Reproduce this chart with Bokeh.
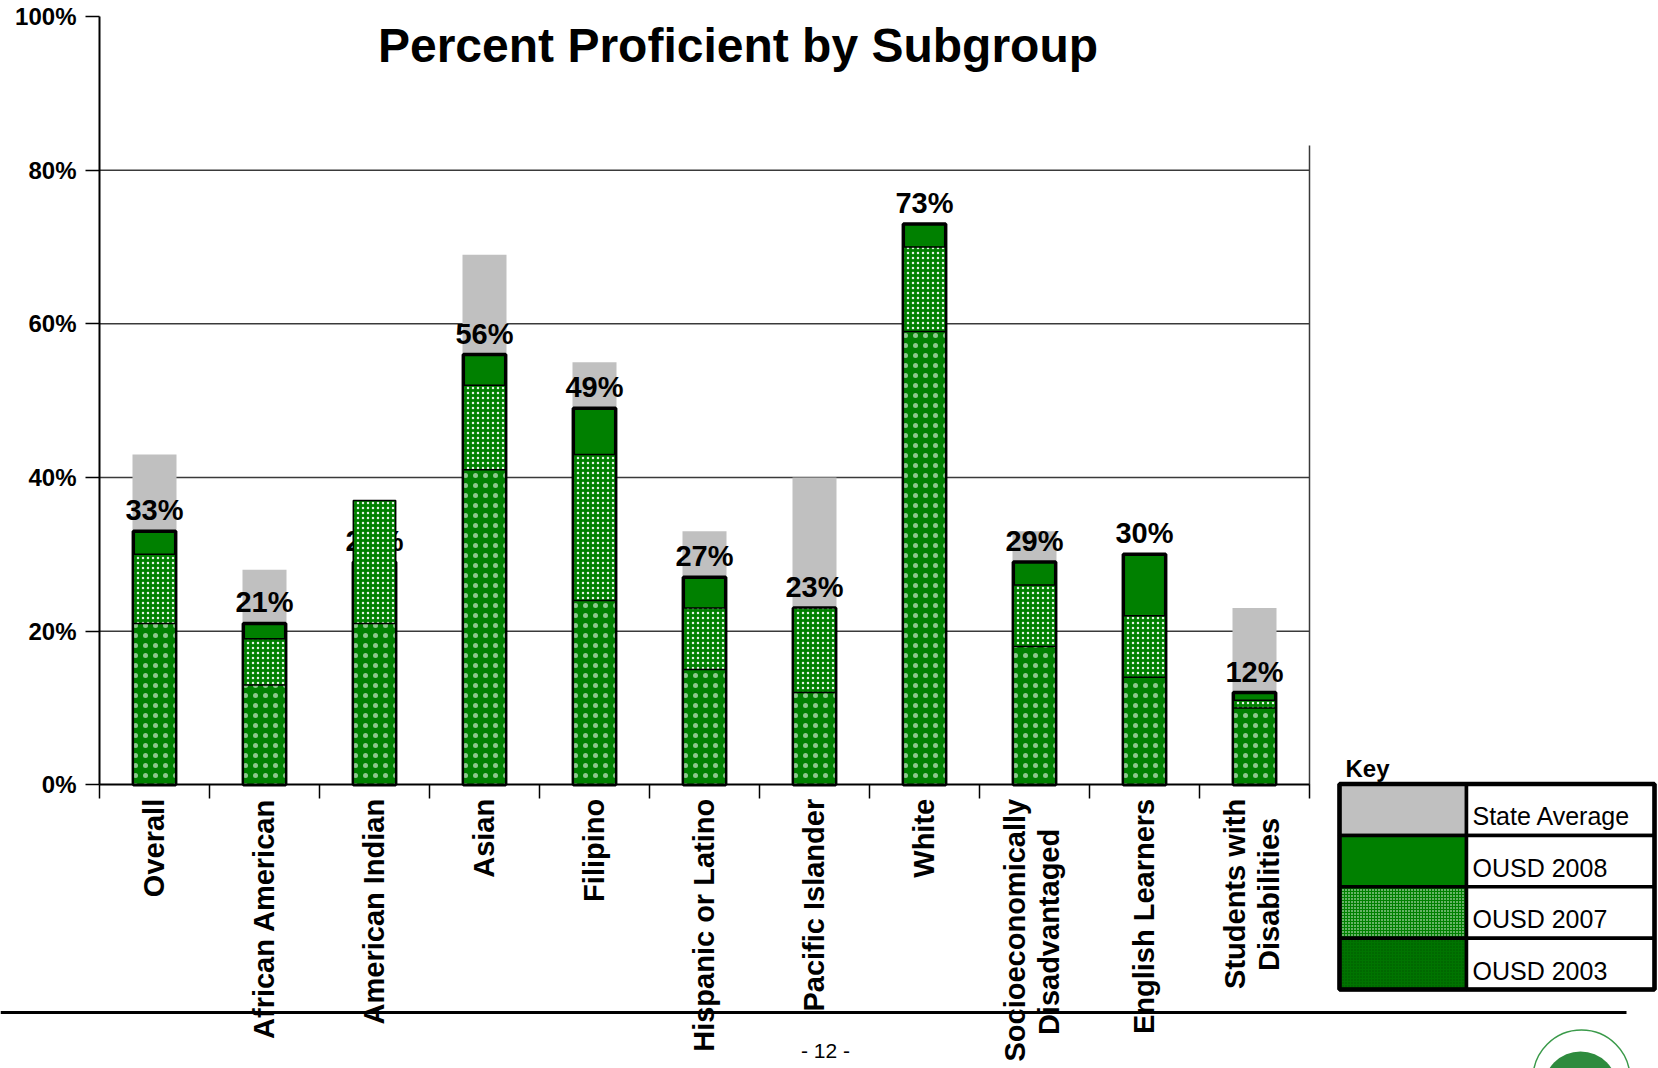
import numpy as np
from bokeh.plotting import figure
from bokeh.models import (Range1d, FixedTicker, CustomJSTickFormatter, PrintfTickFormatter,
                          LinearAxis)
from bokeh.core.properties import value
from bokeh.embed import file_html
from bokeh.resources import INLINE

# ---------------- data ----------------
categories = ["Overall", "African American", "American Indian", "Asian", "Filipino",
              "Hispanic or Latino", "Pacific Islander", "White",
              "Socioeconomically\nDisadvantaged", "English Learners",
              "Students with\nDisabilities"]
state_avg = [43, 28, 33, 69, 55, 33, 40, 66, 33, 23, 23]
ousd_2008 = [33, 21, 29, 56, 49, 27, 23, 73, 29, 30, 12]
ousd_2007 = [30, 19, 37, 52, 43, 23, 23, 70, 26, 22, 11]
ousd_2003 = [21, 13, 21, 41, 24, 15, 12, 59, 18, 14, 10]
y_ticks = [0, 20, 40, 60, 80, 100]
grid_values = [20, 40, 60, 80]
key_labels = ["State Average", "OUSD 2008", "OUSD 2007", "OUSD 2003"]
title_text = "Percent Proficient by Subgroup"
page_number = "- 12 -"

FONT = "Liberation Sans"
GREEN = "#008000"
GRAY = "#C0C0C0"

# ---------------- geometry (page pixels -> data units) ----------------
W, H = 1658, 1068
PX = 110.0          # pixels per category
PY = 7.683          # pixels per percent
X0 = 99.0           # page x of category axis origin
Y0 = 784.3          # page y of 0 %


def dx(px):
    return (px - X0) / PX


def dy(py):
    return (Y0 - py) / PY


n = len(categories)
xc = list(np.arange(n) + 0.5)

p = figure(width=W, height=H,
           x_range=Range1d(dx(0), dx(W)), y_range=Range1d(dy(H), dy(0)),
           output_backend="svg", toolbar_location=None,
           min_border_left=0, min_border_right=0, min_border_top=0, min_border_bottom=0)
p.outline_line_color = None
p.xgrid.visible = False
p.ygrid.visible = False
p.background_fill_color = "white"
p.border_fill_color = "white"

# ---------------- axes ----------------
LABEL_LINE_SHIFT = (-19.0, 15.0)          # px offsets of the two lines of a 2-line label
SECOND_LINE_STANDOFF = {8: 30, 10: 19}     # centring of the shorter second line

main_pos, main_txt = [], []
second = []
for i, c in enumerate(categories):
    lines = c.split("\n")
    if len(lines) == 1:
        main_pos.append(i + 0.5)
        main_txt.append(lines[0])
    else:
        main_pos.append(i + 0.5 + LABEL_LINE_SHIFT[0] / PX)
        main_txt.append(lines[0])
        second.append((i + 0.5 + LABEL_LINE_SHIFT[1] / PX, lines[1], SECOND_LINE_STANDOFF[i]))

pick_js = """
let b = 0;
for (let i = 0; i < pos.length; i++) { if (Math.abs(pos[i] - tick) < Math.abs(pos[b] - tick)) b = i; }
return txt[b];
"""


def style_cat_axis(ax, standoff, visible_lines):
    ax.fixed_location = 0
    ax.bounds = (0, n)
    ax.major_tick_out = 0
    ax.major_tick_in = 0
    ax.minor_tick_out = 14
    ax.minor_tick_in = 0
    ax.axis_line_width = 2
    ax.minor_tick_line_width = 1.5
    if visible_lines:
        ax.axis_line_color = "black"
        ax.minor_tick_line_color = "black"
    else:
        ax.axis_line_color = None
        ax.minor_tick_line_color = None
    ax.major_tick_line_color = None
    ax.major_label_orientation = np.pi / 2
    ax.major_label_standoff = standoff
    ax.major_label_text_font = FONT
    ax.major_label_text_font_style = "bold"
    ax.major_label_text_font_size = "29px"
    ax.major_label_text_color = "black"


xa = p.xaxis[0]
xa.ticker = FixedTicker(ticks=main_pos, minor_ticks=list(range(n + 1)))
xa.formatter = CustomJSTickFormatter(args=dict(pos=main_pos, txt=main_txt), code=pick_js)
style_cat_axis(xa, 0, True)

for pos, txt, so in second:
    ax2 = LinearAxis(ticker=FixedTicker(ticks=[pos], minor_ticks=list(range(n + 1))),
                     formatter=CustomJSTickFormatter(args=dict(pos=[pos], txt=[txt]), code=pick_js))
    style_cat_axis(ax2, so, False)
    p.add_layout(ax2, "below")

ya = p.yaxis[0]
ya.fixed_location = 0
ya.bounds = (0, 100)
ya.ticker = FixedTicker(ticks=y_ticks)
ya.formatter = PrintfTickFormatter(format="%d%%")
ya.major_tick_out = 14
ya.major_tick_in = 0
ya.minor_tick_out = 0
ya.minor_tick_in = 0
ya.major_tick_line_color = "black"
ya.major_tick_line_width = 1.5
ya.axis_line_color = "black"
ya.axis_line_width = 2
ya.major_label_standoff = 9
ya.major_label_text_font = FONT
ya.major_label_text_font_style = "bold"
ya.major_label_text_font_size = "24px"
ya.major_label_text_color = "black"

# ---------------- grid + frame line ----------------
p.segment(x0=[0] * len(grid_values), y0=grid_values, x1=[n] * len(grid_values), y1=grid_values,
          line_color="#3a3a3a", line_width=1.5)
p.segment(x0=[n], y0=[0], x1=[n], y1=[dy(145)], line_color="#3a3a3a", line_width=1.5)

# ---------------- bars ----------------
p.vbar(x=xc, top=state_avg, bottom=0, width=0.40, fill_color=GRAY, line_color=None)
p.vbar(x=xc, top=ousd_2008, bottom=0, width=0.385, fill_color=GREEN,
       line_color="black", line_width=3.5)
p.text(x=xc, y=ousd_2008, text=[f"{v}%" for v in ousd_2008],
       text_align="center", text_baseline="middle", y_offset=-21,
       text_font=value(FONT), text_font_style="bold", text_font_size="29px",
       text_color="black")
p.vbar(x=xc, top=ousd_2007, bottom=0, width=0.385, fill_color=GREEN,
       hatch_pattern="dot", hatch_color="white", hatch_scale=5, hatch_weight=2,
       hatch_alpha=0.9, line_color="black", line_width=1.5)
p.vbar(x=xc, top=ousd_2003, bottom=0, width=0.385, fill_color=GREEN,
       hatch_pattern="dot", hatch_color="white", hatch_scale=10, hatch_weight=1,
       hatch_alpha=0.55, line_color="black", line_width=1.5)

# ---------------- title / footer ----------------
p.text(x=[dx(737.5)], y=[dy(45)], text=[title_text], text_align="center",
       text_baseline="middle", text_font=value(FONT), text_font_style="bold",
       text_font_size="48px", text_color="black")
p.segment(x0=[dx(0)], y0=[dy(1012)], x1=[dx(1626)], y1=[dy(1012)],
          line_color="black", line_width=3)
p.text(x=[dx(825)], y=[dy(1050)], text=[page_number], text_align="center",
       text_baseline="middle", text_font=value(FONT), text_font_size="21px",
       text_color="black")
p.scatter(x=[dx(1581)], y=[dy(1078)], size=97, marker="circle",
          fill_color=None, line_color="#3a9a4a", line_width=1.5)
p.scatter(x=[dx(1580)], y=[dy(1088)], size=74, marker="circle",
          fill_color="#2e8b3e", line_color=None)

# ---------------- key ----------------
k_left, k_mid, k_right = 1339, 1466, 1654
k_top, row_h = 783.5, 51.4
tops = [k_top + i * row_h for i in range(len(key_labels))]
bots = [t + row_h for t in tops]
swatch_styles = [
    dict(fill_color=GRAY),
    dict(fill_color=GREEN),
    dict(fill_color=GREEN, hatch_pattern="dot", hatch_color="white", hatch_scale=3,
         hatch_weight=1.6),
    dict(fill_color="#007400", hatch_pattern="dot", hatch_color="#005500", hatch_scale=3,
         hatch_weight=1.0),
]
for i, st in enumerate(swatch_styles):
    p.quad(left=[dx(k_left)], right=[dx(k_mid)], top=[dy(tops[i])], bottom=[dy(bots[i])],
           line_color="black", line_width=3.5, **st)
p.quad(left=[dx(k_mid)] * 4, right=[dx(k_right)] * 4, top=[dy(t) for t in tops],
       bottom=[dy(b) for b in bots], fill_color="white", line_color="black", line_width=3.5)
p.quad(left=[dx(k_left)], right=[dx(k_right)], top=[dy(k_top)], bottom=[dy(bots[-1])],
       fill_color=None, line_color="black", line_width=4.5)
p.text(x=[dx(1472)] * 4, y=[dy(b - 19) for b in bots], text=key_labels,
       text_align="left", text_baseline="middle", text_font=value(FONT),
       text_font_size="25px", text_color="black")
p.text(x=[dx(1345)], y=[dy(767.5)], text=["Key"], text_align="left",
       text_baseline="middle", text_font=value(FONT), text_font_style="bold",
       text_font_size="24px", text_color="black")

open("out.html", "w").write(file_html(p, INLINE))
